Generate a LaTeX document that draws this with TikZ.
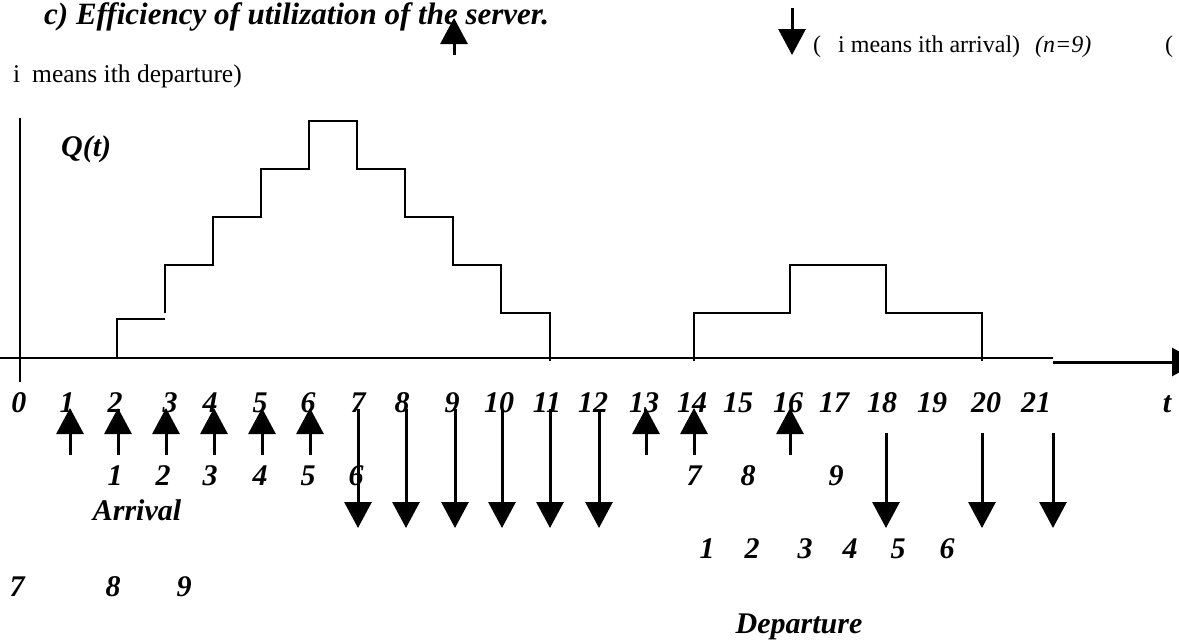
\documentclass[tikz,border=0pt]{standalone}
\usepackage{fontspec}
\setmainfont{Liberation Serif}
\usetikzlibrary{arrows.meta}
\tikzset{
  lbl/.style={inner sep=0pt, anchor=base, font=\fontsize{30}{36}\selectfont\bfseries\itshape},
  ttl/.style={inner sep=0pt, anchor=base west, font=\fontsize{31}{37}\selectfont\bfseries\itshape},
  txt/.style={inner sep=0pt, anchor=base west, font=\fontsize{24}{28}\selectfont},
  curve/.style={line width=1.4pt},
  evt/.style={line width=3pt, -{Triangle[width=27pt,length=26pt]}},
}
\begin{document}
\begin{tikzpicture}[x=1pt,y=-1pt]
\useasboundingbox (0,0) rectangle (1179,641);

% title and legend
\node[ttl] (title) at (44,24) {c) Efficiency of utilization of the server.};
\coordinate (lu0) at (454,55); \coordinate (lu1) at (454,18);
\draw[evt] (lu0) -- (lu1);
\coordinate (ld0) at (792,8); \coordinate (ld1) at (792,55);
\draw[evt] (ld0) -- (ld1);
\node[txt] (p1) at (813,52) {(};
\node[txt] (lega) at (838,52) {i means ith arrival)};
\node[txt, font=\fontsize{24}{28}\selectfont\itshape] (nn) at (1035,52) {(n=9)};
\node[txt] (p2) at (1165,52) {(};
\node[txt, font=\fontsize{25.5}{30}\selectfont] (legi) at (13,82) {i};
\node[txt, font=\fontsize{25.5}{30}\selectfont] (legd) at (32,82) {means ith departure)};

% axes
\coordinate (ya0) at (20,118); \coordinate (ya1) at (20,382);
\draw[curve] (ya0) -- (ya1);
\coordinate (xa0) at (0,358); \coordinate (xa1) at (1053,358);
\draw[curve] (xa0) -- (xa1);
\coordinate (xb0) at (1053,362); \coordinate (xb1) at (1198,362);
\draw[line width=3pt, -{Triangle[width=28pt,length=26pt]}] (xb0) -- (xb1);
\node[lbl, anchor=base west] (Q) at (61,156) {Q(t)};

% queue length step function
\draw[curve] (117,358) -- (117,319) -- (165,319);
\draw[curve] (165,313) -- (165,265) -- (213,265) -- (213,217) -- (261,217)
  -- (261,169) -- (309,169) -- (309,121) -- (357,121) -- (357,169) -- (405,169)
  -- (405,217) -- (453,217) -- (453,265) -- (501,265) -- (501,313) -- (550,313) -- (550,361);
\draw[curve] (694,361) -- (694,313) -- (790,313) -- (790,265) -- (886,265)
  -- (886,313) -- (982,313) -- (982,361);

% time labels
\foreach \lab/\xx in {0/19,1/67,2/115,3/170,4/210,5/260,6/308,7/358,8/402,9/452,
  10/499,11/547,12/593,13/644,14/692,15/738,16/788,17/834,18/882,19/932,20/986,21/1036,t/1167}{
  \node[lbl] (tl\lab) at (\xx,412) {\lab};
}

% arrivals
\foreach \xx [count=\i] in {70,118,166,214,262,310,646,694,790}{
  \coordinate (ua\i) at (\xx,455); \coordinate (ub\i) at (\xx,408);
  \draw[evt] (ua\i) -- (ub\i);
}
\foreach \lab/\xx in {1/115,2/163,3/210,4/260,5/308,6/356,7/694,8/748,9/836}{
  \node[lbl] (an\lab) at (\xx,485) {\lab};
}
\node[lbl] (arr) at (137,520) {Arrival};
\foreach \lab/\xx in {7/17,8/113,9/184}{
  \node[lbl] (ax\lab) at (\xx,596) {\lab};
}

% departures
\foreach \xx [count=\i] in {358,406,455,502,550,599}{
  \coordinate (da\i) at (\xx,409); \coordinate (db\i) at (\xx,528);
  \draw[evt] (da\i) -- (db\i);
}
\foreach \xx [count=\i] in {886,982,1053}{
  \coordinate (ea\i) at (\xx,433); \coordinate (eb\i) at (\xx,528);
  \draw[evt] (ea\i) -- (eb\i);
}
\foreach \lab/\xx in {1/707,2/752,3/805,4/850,5/898,6/947}{
  \node[lbl] (dn\lab) at (\xx,558) {\lab};
}
\node[lbl] (dep) at (799,633) {Departure};
\end{tikzpicture}
\end{document}
